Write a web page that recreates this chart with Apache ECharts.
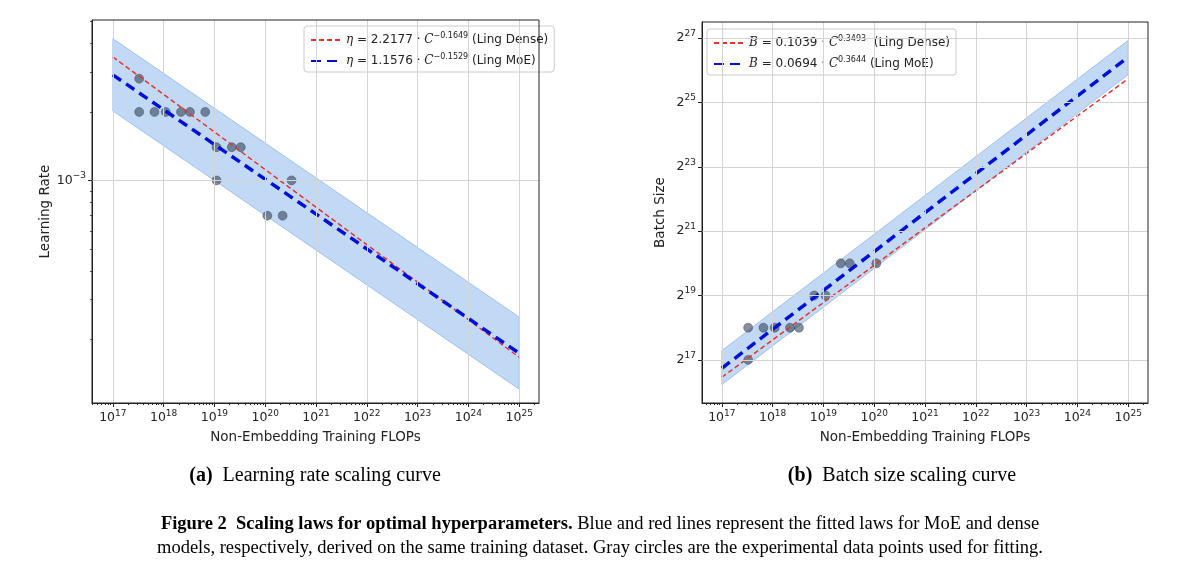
<!DOCTYPE html>
<html>
<head>
<meta charset="utf-8" />
<script src="https://cdn.jsdelivr.net/npm/echarts/dist/echarts.min.js"></script>
<style>body{margin:0;background:#fff}</style>
</head>
<body>
<div id="chart" style="width:1200px;height:586px;"></div>
<script>
// ---- data ----
// left: learning rate vs compute
var lrPoints = [[3.3e17,2.8e-3],[3.3e17,2e-3],[6.6e17,2e-3],[1.1e18,2e-3],[2.2e18,2e-3],[3.3e18,2e-3],[6.6e18,2e-3],
  [1.1e19,1.4e-3],[2.2e19,1.4e-3],[3.3e19,1.4e-3],[1.1e19,1e-3],[3.3e20,1e-3],[1.1e20,7e-4],[2.2e20,7e-4]];
var lrDense = [[1e17,3.49e-3],[1e25,1.67e-4]];
var lrMoE = [[1e17,2.91e-3],[1e25,1.74e-4]];
var lrBand = [[1e17,2.02e-3,4.2e-3],[1e25,1.21e-4,2.51e-4]]; // [C, low, high]
var lrTicks = [1e-3];
// right: batch size vs compute (batch given as power of two exponent)
var bsPoints = [[3.3e17,18],[3.3e17,17],[6.6e17,18],[1.1e18,18],[2.2e18,18],[3.3e18,18],[6.6e18,19],
  [1.1e19,19],[2.2e19,20],[3.3e19,20],[1.1e20,20]];
var bsDense = [[1e17,16.46],[1e25,25.74]];
var bsMoE = [[1e17,16.74],[1e25,26.41]];
var bsBand = [[1e17,16.23,17.29],[1e25,25.86,26.93]];
var xDecades = [17,18,19,20,21,22,23,24,25];
var bsTicks = [17,19,21,23,25,27];

var FONT = 'DejaVu Sans';
var sup = {b:{fontSize:12.5,color:'#222',fontFamily:FONT}, s:{fontSize:9,color:'#222',fontFamily:FONT,verticalAlign:'top',padding:[0,0,9,0]}};
function powLabel(base, e){ return '{b|' + base + '}{s|' + String(e).replace('-', '\u2212') + '}'; }

var lg = Math.log10;
var id = function(v){return v;};
var xMinor = [];
for (var d = 16; d <= 25; d++) for (var k = 2; k <= 9; k++) xMinor.push(d + lg(k));
var yMinorL = [];
for (var d2 = -4; d2 <= -3; d2++) for (var k2 = 2; k2 <= 9; k2++) yMinorL.push(d2 + lg(k2));

function xAxes(gi, min, max) {
  return [{
    type:'value', gridIndex:gi, min:min, max:max,
    axisLine:{onZero:false, lineStyle:{color:'#222'}},
    axisTick:{customValues:xDecades, length:4, lineStyle:{color:'#222'}},
    axisLabel:{customValues:xDecades, formatter:function(v){return powLabel(10, Math.round(v));}, rich:sup, margin:6},
    splitLine:{show:false},
    name:'Non-Embedding Training FLOPs', nameLocation:'middle', nameGap:27,
    nameTextStyle:{fontFamily:FONT, fontSize:13.5, color:'#222'}
  }, {
    type:'value', gridIndex:gi, min:min, max:max, position:'bottom',
    axisLine:{show:false}, axisLabel:{show:false}, splitLine:{show:false},
    axisTick:{customValues:xMinor, length:2, lineStyle:{color:'#222'}}
  }];
}

// grid lines drawn as markLines at the tick values
function gridSeries(xi, yi, xs, ys) {
  var lines = xs.map(function(v){return {xAxis:v};}).concat(ys.map(function(v){return {yAxis:v};}));
  return {type:'line', xAxisIndex:xi, yAxisIndex:yi, data:[], z:0, silent:true,
    markLine:{symbol:'none', silent:true, label:{show:false}, animation:false,
      lineStyle:{color:'#d4d4d4', type:'solid', width:1}, data:lines}};
}
function lineSeries(name, data, xi, yi, color, width, dash, conv) {
  return {type:'line', name:name, xAxisIndex:xi, yAxisIndex:yi, symbol:'none', z:4,
    data:data.map(function(p){return [lg(p[0]), conv(p[1])];}),
    lineStyle:{color:color, width:width, type:dash}, itemStyle:{color:color}};
}
function bandSeries(band, xi, yi, conv) {
  return {type:'custom', xAxisIndex:xi, yAxisIndex:yi, z:1, silent:true,
    data:[0],
    renderItem:function(params, api){
      var pts = [];
      band.forEach(function(b){ pts.push(api.coord([lg(b[0]), conv(b[1])])); });
      band.slice().reverse().forEach(function(b){ pts.push(api.coord([lg(b[0]), conv(b[2])])); });
      return {type:'polygon', shape:{points:pts}, style:{fill:'rgba(120,170,235,0.45)', stroke:'rgba(100,150,230,0.6)', lineWidth:0.8}};
    }};
}
function scatterSeries(data, xi, yi, conv) {
  return {type:'scatter', xAxisIndex:xi, yAxisIndex:yi, z:3, symbolSize:9,
    itemStyle:{color:'rgba(55,70,90,0.75)', borderColor:'rgba(40,50,60,0.8)', borderWidth:0.6},
    data:data.map(function(p){return [lg(p[0]), conv(p[1])];})};
}

var legendRich = {
  t:{fontFamily:FONT, fontSize:12, color:'#222'},
  i:{fontFamily:'DejaVu Serif', fontStyle:'italic', fontSize:12, color:'#222'},
  s:{fontFamily:FONT, fontSize:8, color:'#222', verticalAlign:'top', padding:[0,0,8,0]}
};
var legendText = {
  'LR Dense':'{i|\u03b7}{t| = 2.2177 \u00b7 }{i|C}{s|\u22120.1649}{t| (Ling Dense)}',
  'LR MoE':'{i|\u03b7}{t| = 1.1576 \u00b7 }{i|C}{s|\u22120.1529}{t| (Ling MoE)}',
  'BS Dense':'{i|B}{t| = 0.1039 \u00b7 }{i|C}{s|0.3493}{t|  (Ling Dense)}',
  'BS MoE':'{i|B}{t| = 0.0694 \u00b7 }{i|C}{s|0.3644}{t| (Ling MoE)}'
};
function legend(names, left, top) {
  return {data:names.map(function(n){return {name:n, itemStyle:{opacity:0}};}),
    orient:'vertical', left:left, top:top, itemWidth:30, itemHeight:10, itemGap:7,
    backgroundColor:'#fff', borderColor:'#ccc', borderWidth:1, borderRadius:3, padding:[6,6,5,6],
    formatter:function(n){return legendText[n];}, textStyle:{rich:legendRich}};
}

var serif = 'Liberation Serif';
var option = {
  animation:false,
  grid:[{left:92, top:20, width:447, height:383}, {left:702, top:22, width:446, height:381}],
  xAxis: xAxes(0, 16.59, 25.39).concat(xAxes(1, 16.61, 25.39)),
  yAxis: [{
    type:'value', gridIndex:0, min:-3.978, max:-2.295, position:'left',
    axisLine:{show:true, lineStyle:{color:'#222'}},
    axisTick:{customValues:lrTicks.map(lg), length:4},
    axisLabel:{customValues:lrTicks.map(lg), formatter:function(v){return powLabel(10, Math.round(v));}, rich:sup, margin:6},
    splitLine:{show:false},
    name:'Learning Rate', nameLocation:'middle', nameGap:38, nameRotate:90,
    nameTextStyle:{fontFamily:FONT, fontSize:13.5, color:'#222'}
  }, {
    type:'value', gridIndex:0, min:-3.978, max:-2.295, position:'left',
    axisLine:{show:false}, axisLabel:{show:false}, splitLine:{show:false},
    axisTick:{customValues:yMinorL, length:2}
  }, {
    type:'value', gridIndex:1, min:15.66, max:27.5,
    axisLine:{show:true, lineStyle:{color:'#222'}},
    axisTick:{customValues:bsTicks, length:4},
    axisLabel:{customValues:bsTicks, formatter:function(v){return powLabel(2, Math.round(v));}, rich:sup, margin:6},
    splitLine:{show:false},
    name:'Batch Size', nameLocation:'middle', nameGap:35, nameRotate:90,
    nameTextStyle:{fontFamily:FONT, fontSize:13.5, color:'#222'}
  }],
  legend:[legend(['LR Dense','LR MoE'], 304, 26), legend(['BS Dense','BS MoE'], 707, 29)],
  series:[
    gridSeries(0, 0, xDecades, lrTicks.map(lg)),
    bandSeries(lrBand, 0, 0, lg),
    scatterSeries(lrPoints, 0, 0, lg),
    lineSeries('LR Dense', lrDense, 0, 0, '#e8312a', 1.5, [5,3], lg),
    lineSeries('LR MoE', lrMoE, 0, 0, '#0010d8', 3.5, [10,6], lg),
    gridSeries(2, 2, xDecades, bsTicks),
    bandSeries(bsBand, 2, 2, id),
    scatterSeries(bsPoints, 2, 2, id),
    lineSeries('BS Dense', bsDense, 2, 2, '#e8312a', 1.5, [5,3], id),
    lineSeries('BS MoE', bsMoE, 2, 2, '#0010d8', 3.5, [10,6], id)
  ],
  graphic:[
    {type:'text', x:315, y:476, style:{text:'{b|(a)}{t|  Learning rate scaling curve}', align:'center', verticalAlign:'middle',
      rich:{b:{fontFamily:serif, fontWeight:'bold', fontSize:20}, t:{fontFamily:serif, fontSize:20}}}},
    {type:'text', x:902, y:476, style:{text:'{b|(b)}{t|  Batch size scaling curve}', align:'center', verticalAlign:'middle',
      rich:{b:{fontFamily:serif, fontWeight:'bold', fontSize:20}, t:{fontFamily:serif, fontSize:20}}}},
    {type:'text', x:600, y:524, style:{text:'{b|Figure 2  Scaling laws for optimal hyperparameters.}{t| Blue and red lines represent the fitted laws for MoE and dense}',
      align:'center', verticalAlign:'middle', rich:{b:{fontFamily:serif, fontWeight:'bold', fontSize:18.5}, t:{fontFamily:serif, fontSize:18.5}}}},
    {type:'text', x:600, y:548, style:{text:'models, respectively, derived on the same training dataset. Gray circles are the experimental data points used for fitting.',
      align:'center', verticalAlign:'middle', font:'18.5px "Liberation Serif"'}},
    {type:'rect', shape:{x:92,y:20,width:447,height:383}, style:{fill:'none', stroke:'#222', lineWidth:1}, z:10},
    {type:'rect', shape:{x:702,y:22,width:446,height:381}, style:{fill:'none', stroke:'#222', lineWidth:1}, z:10}
  ]
};
echarts.init(document.getElementById('chart')).setOption(option);
</script>
</body>
</html>
